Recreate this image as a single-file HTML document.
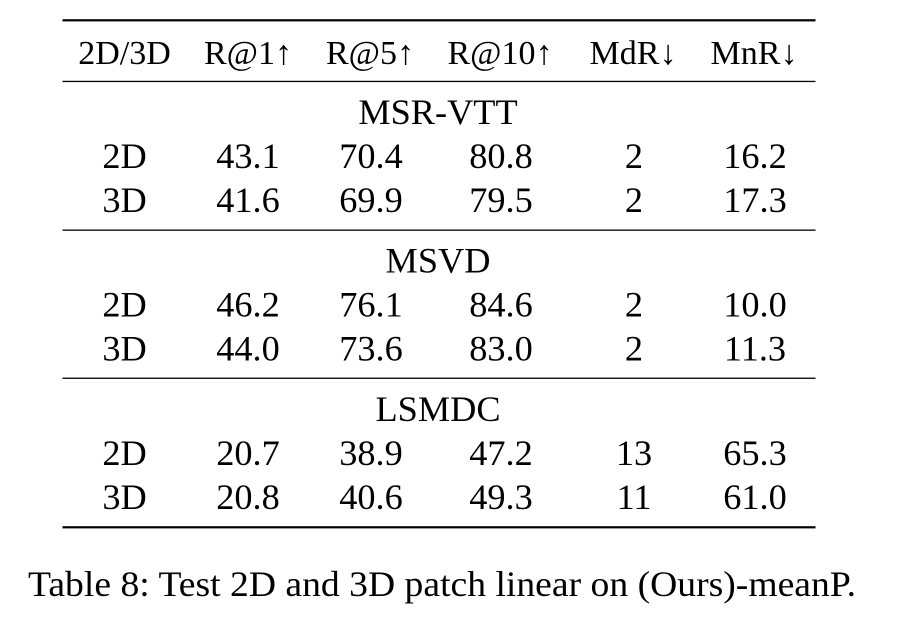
<!DOCTYPE html>
<html>
<head>
<meta charset="utf-8">
<style>
  html, body { margin: 0; padding: 0; background: #ffffff; }
  body { width: 906px; height: 634px; overflow: hidden; }
  svg { display: block; }
  text { font-family: "Liberation Serif", "Times New Roman", serif; fill: #000; }
  .h { font-size: 34px; }
  .b { font-size: 36.3px; }
</style>
</head>
<body>
<svg width="906" height="634" viewBox="0 0 906 634" xmlns="http://www.w3.org/2000/svg">
  <rect x="0" y="0" width="906" height="634" fill="#fff"/>

  <!-- rules -->
  <rect x="62.5" y="19.2" width="753" height="2.2" fill="#000"/>
  <rect x="62.5" y="80.8" width="753" height="1.3" fill="#000"/>
  <rect x="62.5" y="229.5" width="753" height="1.3" fill="#000"/>
  <rect x="62.5" y="377.6" width="753" height="1.3" fill="#000"/>
  <rect x="62.5" y="526.2" width="753" height="2.2" fill="#000"/>

  <!-- header -->
  <g class="h" text-anchor="middle">
    <text x="124.5" y="64">2D/3D</text>
    <text x="248" y="64">R@1↑</text>
    <text x="370" y="64">R@5↑</text>
    <text x="500" y="64">R@10↑</text>
    <text x="633" y="64">MdR↓</text>
    <text x="754" y="64">MnR↓</text>
  </g>

  <g class="b" text-anchor="middle">
    <!-- MSR-VTT -->
    <text x="438" y="124">MSR-VTT</text>
    <text x="124.5" y="168">2D</text>
    <text x="248" y="168">43.1</text>
    <text x="371" y="168">70.4</text>
    <text x="501" y="168">80.8</text>
    <text x="634" y="168">2</text>
    <text x="755" y="168">16.2</text>

    <text x="124.5" y="212">3D</text>
    <text x="248" y="212">41.6</text>
    <text x="371" y="212">69.9</text>
    <text x="501" y="212">79.5</text>
    <text x="634" y="212">2</text>
    <text x="755" y="212">17.3</text>

    <!-- MSVD -->
    <text x="438" y="272.5">MSVD</text>
    <text x="124.5" y="316.5">2D</text>
    <text x="248" y="316.5">46.2</text>
    <text x="371" y="316.5">76.1</text>
    <text x="501" y="316.5">84.6</text>
    <text x="634" y="316.5">2</text>
    <text x="755" y="316.5">10.0</text>

    <text x="124.5" y="360.5">3D</text>
    <text x="248" y="360.5">44.0</text>
    <text x="371" y="360.5">73.6</text>
    <text x="501" y="360.5">83.0</text>
    <text x="634" y="360.5">2</text>
    <text x="755" y="360.5">11.3</text>

    <!-- LSMDC -->
    <text x="438" y="420.8">LSMDC</text>
    <text x="124.5" y="464.8">2D</text>
    <text x="248" y="464.8">20.7</text>
    <text x="371" y="464.8">38.9</text>
    <text x="501" y="464.8">47.2</text>
    <text x="634" y="464.8">13</text>
    <text x="755" y="464.8">65.3</text>

    <text x="124.5" y="508.8">3D</text>
    <text x="248" y="508.8">20.8</text>
    <text x="371" y="508.8">40.6</text>
    <text x="501" y="508.8">49.3</text>
    <text x="634" y="508.8">11</text>
    <text x="755" y="508.8">61.0</text>
  </g>

  <!-- caption -->
  <text class="b" x="28" y="596" textLength="828" lengthAdjust="spacingAndGlyphs">Table 8: Test 2D and 3D patch linear on (Ours)-meanP.</text>
</svg>
</body>
</html>
